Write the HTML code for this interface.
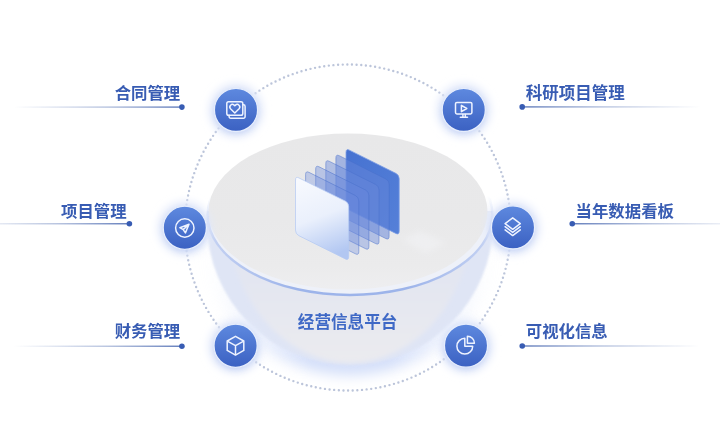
<!DOCTYPE html>
<html lang="zh">
<head>
<meta charset="utf-8">
<title>经营信息平台</title>
<style>
html,body{margin:0;padding:0;background:#ffffff;}
body{width:720px;height:438px;overflow:hidden;position:relative;font-family:"Liberation Sans",sans-serif;}
svg{position:absolute;left:0;top:0;display:block;filter:blur(0.35px);}
.sr{position:absolute;left:0;top:0;width:1px;height:1px;margin:0;padding:0;overflow:hidden;clip:rect(0 0 0 0);clip-path:inset(50%);opacity:0;list-style:none;font-size:1px;}
</style>
</head>
<body>
<ul class="sr">
<li>合同管理</li><li>项目管理</li><li>财务管理</li>
<li>科研项目管理</li><li>当年数据看板</li><li>可视化信息</li>
<li>经营信息平台</li>
</ul>
<svg width="720" height="438" viewBox="0 0 720 438">
<defs>
  <linearGradient id="cg" x1="0" y1="0" x2="0" y2="1">
    <stop offset="0" stop-color="#5e89df"/><stop offset="1" stop-color="#3b61c2"/>
  </linearGradient>
  <linearGradient id="lgL" x1="0" y1="0" x2="1" y2="0">
    <stop offset="0" stop-color="#7088bf" stop-opacity="0"/><stop offset="0.55" stop-color="#7088bf" stop-opacity="0.5"/><stop offset="1" stop-color="#5f7aba" stop-opacity="1"/>
  </linearGradient>
  <linearGradient id="lgR" x1="0" y1="0" x2="1" y2="0">
    <stop offset="0" stop-color="#5f7aba" stop-opacity="1"/><stop offset="0.45" stop-color="#7088bf" stop-opacity="0.5"/><stop offset="1" stop-color="#7088bf" stop-opacity="0"/>
  </linearGradient>
  <linearGradient id="p1" x1="0.25" y1="0" x2="0.5" y2="1">
    <stop offset="0" stop-color="#f7f9fe"/><stop offset="0.5" stop-color="#eaf0fc"/><stop offset="1" stop-color="#b2c7f2"/>
  </linearGradient>
  <linearGradient id="p6" x1="0" y1="0" x2="1" y2="1">
    <stop offset="0" stop-color="#4672d1"/><stop offset="1" stop-color="#5580d8"/>
  </linearGradient>
  <linearGradient id="discg" x1="0" y1="0" x2="0" y2="1">
    <stop offset="0" stop-color="#e8e8e9"/><stop offset="0.55" stop-color="#e9e9ea"/><stop offset="0.85" stop-color="#ebebec"/><stop offset="1" stop-color="#eeeef0"/>
  </linearGradient>
  <linearGradient id="rimfade" gradientUnits="userSpaceOnUse" x1="0" y1="196" x2="0" y2="232">
    <stop offset="0" stop-color="#000"/><stop offset="1" stop-color="#fff"/>
  </linearGradient>
  <linearGradient id="glowfade" gradientUnits="userSpaceOnUse" x1="0" y1="225" x2="0" y2="360">
    <stop offset="0" stop-color="#000"/><stop offset="0.35" stop-color="#2a2a2a"/><stop offset="0.75" stop-color="#999"/><stop offset="1" stop-color="#fff"/>
  </linearGradient>

  <mask id="glowmask" maskUnits="userSpaceOnUse" x="150" y="200" width="400" height="238"><rect x="150" y="200" width="400" height="238" fill="url(#glowfade)"/></mask>
  <linearGradient id="glowfadex" gradientUnits="userSpaceOnUse" x1="215" y1="0" x2="485" y2="0">
    <stop offset="0" stop-color="#444"/><stop offset="0.36" stop-color="#fff"/><stop offset="0.64" stop-color="#fff"/><stop offset="1" stop-color="#444"/>
  </linearGradient>
  <mask id="glowmaskx" maskUnits="userSpaceOnUse" x="150" y="200" width="400" height="238"><rect x="150" y="200" width="400" height="238" fill="url(#glowfadex)"/></mask>
  <linearGradient id="rimstroke" gradientUnits="userSpaceOnUse" x1="207" y1="0" x2="493" y2="0">
    <stop offset="0" stop-color="#c6d3f3"/><stop offset="0.3" stop-color="#9db4ea"/><stop offset="0.7" stop-color="#9db4ea"/><stop offset="1" stop-color="#c6d3f3"/>
  </linearGradient>
  <mask id="rimmask" maskUnits="userSpaceOnUse" x="190" y="120" width="320" height="200"><rect x="190" y="120" width="320" height="200" fill="url(#rimfade)"/></mask>
  <clipPath id="lower"><rect x="150" y="211" width="400" height="227"/></clipPath>
  <linearGradient id="innerg" gradientUnits="userSpaceOnUse" x1="0" y1="280" x2="0" y2="362">
    <stop offset="0" stop-color="#e3e6f1"/><stop offset="1" stop-color="#ebebef"/>
  </linearGradient>
  <filter id="innerblur" x="-10%" y="-10%" width="120%" height="120%"><feGaussianBlur stdDeviation="2.2"/></filter>
  <filter id="glow" x="-50%" y="-50%" width="200%" height="200%"><feGaussianBlur stdDeviation="3"/></filter>
  <filter id="halo" x="-50%" y="-50%" width="200%" height="200%"><feGaussianBlur stdDeviation="4.5"/></filter>
  <filter id="bglow" x="-20%" y="-20%" width="140%" height="140%"><feGaussianBlur stdDeviation="6.5"/></filter>
  <filter id="rimblur" x="-5%" y="-5%" width="110%" height="110%"><feGaussianBlur stdDeviation="0.7"/></filter>
  <filter id="bodyblur" x="-5%" y="-5%" width="110%" height="110%"><feGaussianBlur stdDeviation="1.3"/></filter>
  <filter id="sblur" x="-30%" y="-30%" width="160%" height="160%"><feGaussianBlur stdDeviation="3"/></filter>
</defs>
<circle cx="347.9" cy="227.5" r="163" fill="none" stroke="#bcc5da" stroke-width="2.4" stroke-linecap="round" stroke-dasharray="0 4.65"/>

<g mask="url(#glowmask)"><g mask="url(#glowmaskx)">
<circle cx="350" cy="225" r="150.5" fill="#d4dff9" filter="url(#bglow)"/>
</g></g>
<g clip-path="url(#lower)">
<!-- bowl body -->
<circle cx="350" cy="222" r="143" fill="#dfe5f5" filter="url(#bodyblur)"/>
<ellipse cx="350" cy="213" rx="123" ry="149.5" fill="url(#innerg)" filter="url(#innerblur)"/>
</g>
<!-- rim (disc thickness) -->
<g mask="url(#rimmask)"><ellipse cx="350" cy="214.9" rx="142.4" ry="80" fill="#eef1f9" stroke="url(#rimstroke)" stroke-width="2.5" filter="url(#rimblur)"/></g>
<!-- disc top -->
<ellipse cx="348" cy="211.5" rx="139.5" ry="78" fill="url(#discg)"/>

<path d="M402 240 L420 231 L446 243 L426 253Z" fill="#f6f7fa" opacity="0.4" filter="url(#sblur)"/><path d="M346.00 152.25Q346.00 148.45 349.40 150.15L395.80 173.35Q399.20 175.05 399.20 178.85L399.20 231.30Q399.20 235.10 395.80 233.40L349.40 210.20Q346.00 208.50 346.00 204.70Z" fill="url(#p6)" stroke="#7fa0e6" stroke-width="0.8"/><path d="M335.90 157.80Q335.90 154.00 339.30 155.70L385.70 178.90Q389.10 180.60 389.10 184.40L389.10 236.40Q389.10 240.20 385.70 238.50L339.30 215.30Q335.90 213.60 335.90 209.80Z" fill="#6485d8" fill-opacity="0.52" stroke="#4a70cc" stroke-opacity="0.55" stroke-width="0.9"/><path d="M325.80 163.35Q325.80 159.55 329.20 161.25L375.60 184.45Q379.00 186.15 379.00 189.95L379.00 241.50Q379.00 245.30 375.60 243.60L329.20 220.40Q325.80 218.70 325.80 214.90Z" fill="#6888da" fill-opacity="0.44" stroke="#4a70cc" stroke-opacity="0.55" stroke-width="0.9"/><path d="M315.70 168.90Q315.70 165.10 319.10 166.80L365.50 190.00Q368.90 191.70 368.90 195.50L368.90 246.60Q368.90 250.40 365.50 248.70L319.10 225.50Q315.70 223.80 315.70 220.00Z" fill="#6a8adc" fill-opacity="0.38" stroke="#4a70cc" stroke-opacity="0.55" stroke-width="0.9"/><path d="M305.60 174.45Q305.60 170.65 309.00 172.35L355.40 195.55Q358.80 197.25 358.80 201.05L358.80 251.70Q358.80 255.50 355.40 253.80L309.00 230.60Q305.60 228.90 305.60 225.10Z" fill="#6c8cde" fill-opacity="0.33" stroke="#4a70cc" stroke-opacity="0.55" stroke-width="0.9"/><path d="M295.50 180.00Q295.50 176.20 298.90 177.90L345.30 201.10Q348.70 202.80 348.70 206.60L348.70 256.80Q348.70 260.60 345.30 258.90L298.90 235.70Q295.50 234.00 295.50 230.20Z" fill="url(#p1)" stroke="#b4c8f2" stroke-opacity="0.9" stroke-width="0.8"/>
<text x="347.6" y="327.6" text-anchor="middle" font-size="16.6" font-weight="bold" fill="#3f69c6" font-family="'Liberation Sans','Noto Sans CJK SC',sans-serif">经营信息平台</text>
<circle cx="236.0" cy="110.4" r="26.6" fill="#e1e8fa" filter="url(#halo)"/><circle cx="236.0" cy="111.9" r="21.6" fill="#86a3ea" opacity="0.32" filter="url(#glow)"/><circle cx="236.0" cy="109.9" r="21.6" fill="url(#cg)" stroke="#e6edfc" stroke-width="1.3"/><g fill="none" stroke="#eef3ff" stroke-width="1.5" stroke-linecap="round" stroke-linejoin="round"><path d="M229.10000000000002 115.2v1.4a1.6 1.6 0 0 0 1.6 1.6h12.8a1.6 1.6 0 0 0 1.6-1.6v-10.2a1.6 1.6 0 0 0-1.6-1.6h-0.6999999999999997"/><rect x="226.8" y="101.8" width="16.0" height="13.4" rx="1.8"/><path d="M234.8 113.0l-4.3-4.3a2.55 2.55 0 0 1 3.6-3.6l.7.7.7-.7a2.55 2.55 0 0 1 3.6 3.6z"/></g><circle cx="184.8" cy="228.3" r="26.6" fill="#e1e8fa" filter="url(#halo)"/><circle cx="184.8" cy="229.8" r="21.6" fill="#86a3ea" opacity="0.32" filter="url(#glow)"/><circle cx="184.8" cy="227.8" r="21.6" fill="url(#cg)" stroke="#e6edfc" stroke-width="1.3"/><g fill="none" stroke="#eef3ff" stroke-width="1.5" stroke-linecap="round" stroke-linejoin="round"><circle cx="184.8" cy="228.0" r="9.2"/><path d="M189.0 224.3l-9.1 3.4 3.3 1.9 2.2 3.3z M189.0 224.3l-5.8 5.3" stroke-width="1.5"/></g><circle cx="235.6" cy="346.25" r="26.6" fill="#e1e8fa" filter="url(#halo)"/><circle cx="235.6" cy="347.75" r="21.6" fill="#86a3ea" opacity="0.32" filter="url(#glow)"/><circle cx="235.6" cy="345.75" r="21.6" fill="url(#cg)" stroke="#e6edfc" stroke-width="1.3"/><g fill="none" stroke="#eef3ff" stroke-width="1.5" stroke-linecap="round" stroke-linejoin="round"><path d="M235.5 336.3l8.3 4.7v9.4l-8.3 4.7l-8.3 -4.7v-9.4z"/><path d="M228.2 341.6l7.300000000000001 4.1000000000000005l7.300000000000001 -4.1000000000000005M235.5 345.7v8.8"/></g><circle cx="463.75" cy="110.4" r="26.6" fill="#e1e8fa" filter="url(#halo)"/><circle cx="463.75" cy="111.9" r="21.6" fill="#86a3ea" opacity="0.32" filter="url(#glow)"/><circle cx="463.75" cy="109.9" r="21.6" fill="url(#cg)" stroke="#e6edfc" stroke-width="1.3"/><g fill="none" stroke="#eef3ff" stroke-width="1.5" stroke-linecap="round" stroke-linejoin="round"><rect x="455.5" y="102.4" width="16.4" height="11.6" rx="1.4"/><path d="M461.4 105.30000000000001v6.4l5.4-3.2z"/><path d="M460.3 117.3h7.2M462.9 114.4v2.6M465.3 114.4v2.6"/></g><circle cx="513.0" cy="227.9" r="26.6" fill="#e1e8fa" filter="url(#halo)"/><circle cx="513.0" cy="229.4" r="21.6" fill="#86a3ea" opacity="0.32" filter="url(#glow)"/><circle cx="513.0" cy="227.4" r="21.6" fill="url(#cg)" stroke="#e6edfc" stroke-width="1.3"/><g fill="none" stroke="#eef3ff" stroke-width="1.5" stroke-linecap="round" stroke-linejoin="round"><path d="M512.7 217.8l7.6 5.75l-7.6 5.75l-7.6 -5.75z"/><path d="M505.1 226.70000000000002l7.6 5.75l7.6 -5.75"/><path d="M505.1 229.85000000000002l7.6 5.75l7.6 -5.75"/></g><circle cx="466.0" cy="346.1" r="26.6" fill="#e1e8fa" filter="url(#halo)"/><circle cx="466.0" cy="347.6" r="21.6" fill="#86a3ea" opacity="0.32" filter="url(#glow)"/><circle cx="466.0" cy="345.6" r="21.6" fill="url(#cg)" stroke="#e6edfc" stroke-width="1.3"/><g fill="none" stroke="#eef3ff" stroke-width="1.5" stroke-linecap="round" stroke-linejoin="round"><path d="M464.8 338.3a7.9 7.9 0 1 0 7.9 7.9h-7.9z"/><path d="M467.4 336.2v7.0h7.0a7.0 7.0 0 0 0 -7.0 -7.0z"/></g>
<text x="180.2" y="98.6" text-anchor="end" font-size="16.4" font-weight="bold" fill="#385cb3" font-family="'Liberation Sans','Noto Sans CJK SC',sans-serif">合同管理</text><rect x="14" y="106.39999999999999" width="167.9" height="1.4" fill="url(#lgL)"/><circle cx="181.9" cy="107.1" r="2.8" fill="#385cb3"/><text x="126.6" y="216.8" text-anchor="end" font-size="16.4" font-weight="bold" fill="#385cb3" font-family="'Liberation Sans','Noto Sans CJK SC',sans-serif">项目管理</text><rect x="-36" y="223.05" width="165.4" height="1.4" fill="url(#lgL)"/><circle cx="129.4" cy="223.75" r="2.8" fill="#385cb3"/><text x="180.2" y="337.2" text-anchor="end" font-size="16.4" font-weight="bold" fill="#385cb3" font-family="'Liberation Sans','Noto Sans CJK SC',sans-serif">财务管理</text><rect x="14" y="345.55" width="167.9" height="1.4" fill="url(#lgL)"/><circle cx="181.9" cy="346.25" r="2.8" fill="#385cb3"/><text x="525.8" y="98.8" font-size="16.5" font-weight="bold" fill="#385cb3" font-family="'Liberation Sans','Noto Sans CJK SC',sans-serif">科研项目管理</text><rect x="522.2" y="106.2" width="177.79999999999995" height="1.4" fill="url(#lgR)"/><circle cx="522.2" cy="106.9" r="2.8" fill="#385cb3"/><text x="575.6" y="217.2" font-size="16.4" font-weight="bold" fill="#385cb3" font-family="'Liberation Sans','Noto Sans CJK SC',sans-serif">当年数据看板</text><rect x="572.25" y="223.05" width="177.75" height="1.4" fill="url(#lgR)"/><circle cx="572.25" cy="223.75" r="2.8" fill="#385cb3"/><text x="525.8" y="337.2" font-size="16.4" font-weight="bold" fill="#385cb3" font-family="'Liberation Sans','Noto Sans CJK SC',sans-serif">可视化信息</text><rect x="522.25" y="345.3" width="177.75" height="1.4" fill="url(#lgR)"/><circle cx="522.25" cy="346.0" r="2.8" fill="#385cb3"/>
</svg>
</body>
</html>
